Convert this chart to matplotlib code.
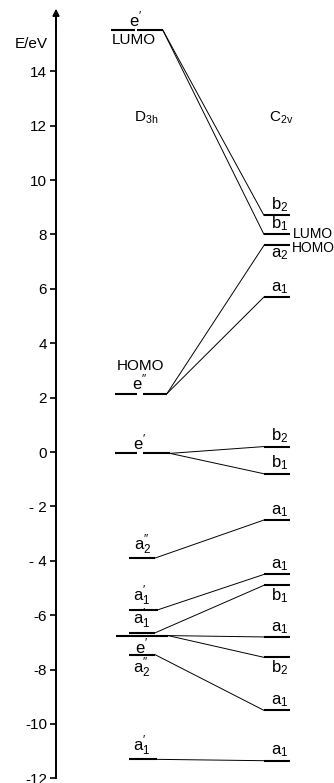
import matplotlib
matplotlib.use("Agg")
import matplotlib.pyplot as plt

plt.rcParams['font.family'] = ['Liberation Sans', 'DejaVu Sans']
plt.rcParams['mathtext.fontset'] = 'custom'
plt.rcParams['mathtext.rm'] = 'Liberation Sans'
plt.rcParams['mathtext.it'] = 'Liberation Sans'
plt.rcParams['mathtext.bf'] = 'Liberation Sans'

# Orbital energies (eV)
d3h_energy = [15.5, 2.15, -0.05, -3.9, -5.8, -6.65, -6.75, -7.45, -11.3]
d3h_label = [r"$\mathrm{e}^{\prime}$", r"$\mathrm{e}^{\prime\prime}$", r"$\mathrm{e}^{\prime}$",
             r"$\mathrm{a}_2^{\prime\prime}$", r"$\mathrm{a}_1^{\prime}$", r"$\mathrm{a}_1^{\prime}$",
             r"$\mathrm{e}^{\prime}$", r"$\mathrm{a}_2^{\prime\prime}$", r"$\mathrm{a}_1^{\prime}$"]
c2v_energy = [8.7, 8.0, 7.6, 5.7, 0.2, -0.8, -2.5, -4.5, -4.9, -6.8, -7.55, -9.5, -11.35]
c2v_label = [r"$\mathrm{b}_2$", r"$\mathrm{b}_1$", r"$\mathrm{a}_2$", r"$\mathrm{a}_1$",
             r"$\mathrm{b}_2$", r"$\mathrm{b}_1$", r"$\mathrm{a}_1$", r"$\mathrm{a}_1$",
             r"$\mathrm{b}_1$", r"$\mathrm{a}_1$", r"$\mathrm{b}_2$", r"$\mathrm{a}_1$",
             r"$\mathrm{a}_1$"]
# correlation lines: (D3h level, C2v level)
correlations = [(0, 0), (0, 1), (1, 2), (1, 3), (2, 4), (2, 5), (3, 6),
                (4, 7), (5, 8), (6, 9), (6, 10), (7, 11), (8, 12)]
tick_values = [14, 12, 10, 8, 6, 4, 2, 0, -2, -4, -6, -8, -10, -12]
tick_labels = ["14", "12", "10", "8", "6", "4", "2", "0", "- 2", "- 4", "-6", "-8", "-10", "-12"]

# layout: horizontal extents of the level bars and label placement
d3h_span = [(111, 163), (115, 167), (115, 170), (129, 155), (129, 158),
            (129, 155), (116, 168), (129, 155), (129, 157)]
d3h_gap = [(135, 137), (137, 143), (137, 143), None, None, None, None, None, None]
d3h_side = ['above', 'above', 'above', 'above', 'above', 'above', 'below', 'below', 'above']
d3h_lx = [136, 140, 140, 143, 142, 142, 142, 142, 142]
c2v_span = (264, 290)
c2v_side = ['above', 'above', 'below', 'above', 'above', 'above', 'above', 'above',
            'below', 'above', 'below', 'above', 'above']
c2v_lx = 280

fs = 11
fs_lab = 12

fig = plt.figure(figsize=(3.34, 7.83), dpi=100)
ax = fig.add_axes([0, 0, 1, 1])
ax.set_xlim(0, 334)
ax.set_ylim(-12.17, 16.62)
ax.patch.set_alpha(0)

for s in ['top', 'right', 'bottom']:
    ax.spines[s].set_visible(False)
ax.spines['left'].set_position(('data', 56))
ax.spines['left'].set_bounds(-12, 16.0)
ax.spines['left'].set_linewidth(1.4)
ax.set_xticks([])
ax.set_yticks(tick_values)
ax.set_yticklabels(tick_labels, fontsize=fs)
ax.tick_params(axis='y', direction='out', length=4, width=1.2, pad=2.5)
ax.annotate('', xy=(56, 16.3), xytext=(56, 15.6),
            arrowprops=dict(arrowstyle='-|>', color='black', lw=1.2,
                            mutation_scale=10, shrinkA=0, shrinkB=0))

lw_level = 1.5
lw_conn = 0.7

# D3h levels
for E, (x0, x1), gap, lab, side, lx in zip(d3h_energy, d3h_span, d3h_gap,
                                           d3h_label, d3h_side, d3h_lx):
    if gap is None:
        ax.plot([x0, x1], [E, E], color='black', lw=lw_level, solid_capstyle='butt')
    else:
        ax.plot([x0, gap[0]], [E, E], color='black', lw=lw_level, solid_capstyle='butt')
        ax.plot([gap[1], x1], [E, E], color='black', lw=lw_level, solid_capstyle='butt')
    dy = 1 if side == 'above' else -1
    ax.annotate(lab, (lx, E), xytext=(0, dy), textcoords='offset points',
                ha='center', va='bottom' if side == 'above' else 'top', fontsize=fs_lab)

# C2v levels
for E, lab, side in zip(c2v_energy, c2v_label, c2v_side):
    ax.plot(list(c2v_span), [E, E], color='black', lw=lw_level, solid_capstyle='butt')
    dy = 1 if side == 'above' else -1
    ax.annotate(lab, (c2v_lx, E), xytext=(0, dy), textcoords='offset points',
                ha='center', va='bottom' if side == 'above' else 'top', fontsize=fs_lab)

# correlation lines
for i, j in correlations:
    ax.plot([d3h_span[i][1], c2v_span[0]], [d3h_energy[i], c2v_energy[j]],
            color='black', lw=lw_conn)

# frontier orbital annotations
ax.annotate("LUMO", (134, d3h_energy[0]), xytext=(0, -1.5), textcoords='offset points',
            ha='center', va='top', fontsize=fs)
ax.annotate("HOMO", (141, d3h_energy[1]), xytext=(0, 15), textcoords='offset points',
            ha='center', va='bottom', fontsize=fs)
ax.annotate("LUMO", (293, c2v_energy[1]), xytext=(0, 0), textcoords='offset points',
            ha='left', va='center', fontsize=10)
ax.annotate("HOMO", (292, c2v_energy[2]), xytext=(0, -2), textcoords='offset points',
            ha='left', va='center', fontsize=10)

# axis title and point-group headings
ax.text(15, 15.0, "E/eV", ha='left', va='center', fontsize=fs)
ax.text(134, 12.3, r"$\mathrm{D}_{3h}$", ha='left', va='center', fontsize=fs)
ax.text(269, 12.3, r"$\mathrm{C}_{2v}$", ha='left', va='center', fontsize=fs)

fig.savefig("out.png", dpi=100)
